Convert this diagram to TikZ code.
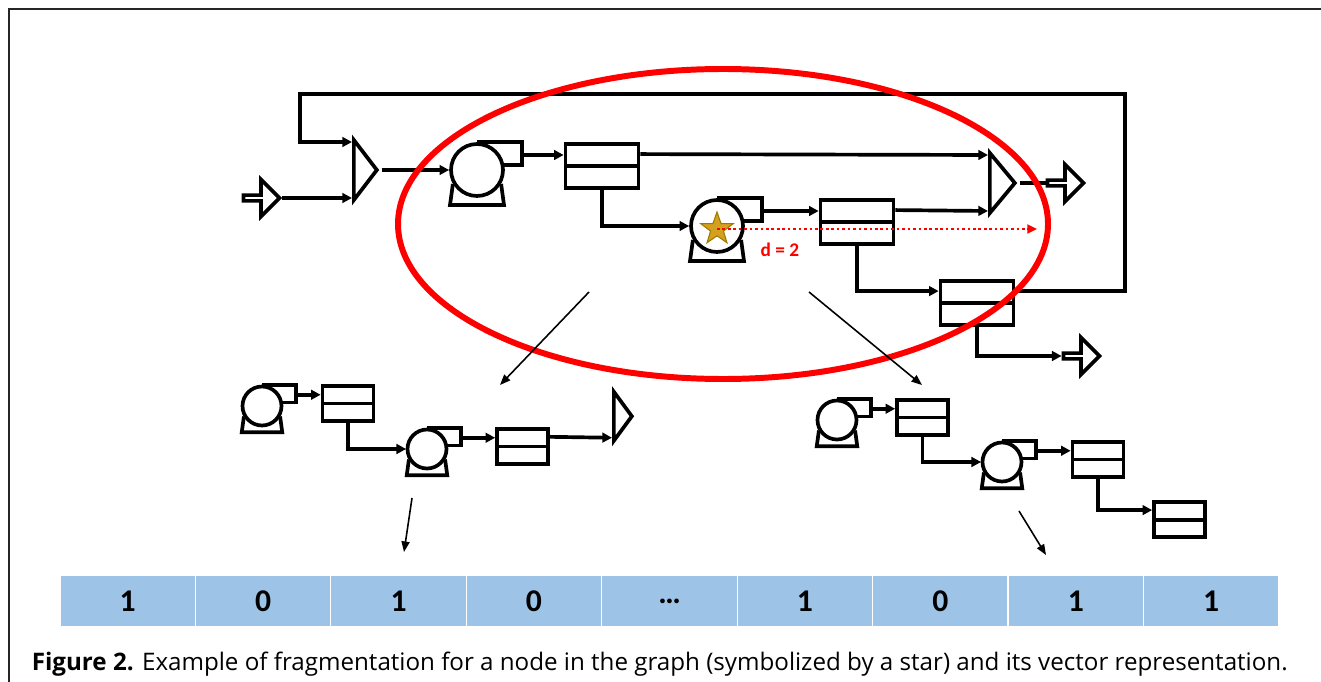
\documentclass[tikz,border=0pt]{standalone}
\usepackage{fontspec}
\setmainfont{Open Sans}
\newfontfamily\califont{Carlito}
\usetikzlibrary{arrows.meta,shapes.geometric,shapes.arrows,calc}

\definecolor{cellblue}{HTML}{9DC3E6}
\definecolor{stargold}{HTML}{D4A020}
\definecolor{starline}{HTML}{9C7A00}

\begin{document}
\begin{tikzpicture}[x=0.02cm, y=-0.02cm, line width=2.1pt,
        >={Triangle[length=5.5pt,width=5.5pt]},
        tank/.style={draw, rectangle, inner sep=0pt, minimum width=1.46cm, minimum height=0.88cm,
            path picture={\draw (path picture bounding box.west) -- (path picture bounding box.east);}},
        smalltank/.style={tank, minimum width=1.02cm, minimum height=0.70cm},
        mixer/.style={draw, isosceles triangle, isosceles triangle stretches, inner sep=0pt, anchor=lower side},
        blockarrow/.style={draw, single arrow, inner sep=0pt, minimum height=0.72cm, minimum width=0.74cm,
            single arrow head extend=0.2cm},
        bit/.style={draw=white, line width=0.6pt, fill=cellblue, inner sep=0pt,
            minimum width=2.708cm, minimum height=1.04cm, font=\califont\bfseries\fontsize{18}{20}\selectfont},
        thinarrow/.style={line width=0.9pt, -{Triangle[length=6pt,width=4.6pt]}},
        pump/.pic={
            \node[circle, draw, minimum size=1.04cm, inner sep=0pt] (-c) {};
            \draw (-c.north) -- ++(45,0) |- (-c.10);
            \draw (-c.-150) -- (-27,35) -- (27,35) -- (-c.-30);
            \coordinate (-out) at (45,-15);
        }]
    \useasboundingbox (0,0) rectangle (1321,682);
    \draw[line width=1.4pt, black!85] (9,682) -- (9,9) -- (1321,9);

    % whole process
    \node[blockarrow] (inA) at (260,198) {};
    \node[mixer, minimum height=0.46cm, minimum width=1.2cm] (mixA) at (352,170) {};
    \pic (pmA) at (477,170) {pump};
    \node[tank] (tankA) at (602,166) {};
    \pic (pmB) at (717,226) {pump};
    \node[tank] (tankB) at (857,222) {};
    \node[tank] (tankC) at (977,303) {};
    \node[mixer, minimum height=0.5cm, minimum width=1.2cm] (mixB) at (988,183) {};
    \node[blockarrow] (outA) at (1064,183) {};
    \node[blockarrow] (outB) at (1080,356) {};
    \coordinate (loopNE) at (1125,94);
    \coordinate (loopNW) at (300,94);

    \draw[->] (inA.tip) -- (inA.tip -| mixA.lower side);
    \draw[->] ($(tankC.east)!0.5!(tankC.north east)$) -| (loopNE) -- (loopNW) |- ($(mixA.lower side)+(0,-28)$);
    \draw[->] (mixA.apex) -- (pmA-c.west);
    \draw[->] (pmA-out) -- (pmA-out -| tankA.west);
    \draw[->] ($(tankA.east)!0.5!(tankA.north east)$) -- ($(mixB.lower side)+(0,-28)$);
    \draw[->] (tankA.south) |- (pmB-c.west);
    \draw[->] (pmB-out) -- (pmB-out -| tankB.west);
    \draw[->] ($(tankB.east)!0.5!(tankB.north east)$) -- ($(mixB.lower side)+(0,28)$);
    \draw[->] (tankB.south) |- ($(tankC.west)!0.5!(tankC.north west)$);
    \draw (mixB.apex) -- (outA.tail);
    \draw[->] (tankC.south) |- (outB.tail);

    % node of interest and its distance
    \node[star, star points=5, star point ratio=2.5, fill=stargold, draw=starline, line width=0.6pt,
        minimum size=0.68cm, inner sep=0pt] (starB) at (717,229) {};
    \coordinate (dEnd) at (1037,229);
    \draw[red, line width=1.4pt, dash pattern=on 1.5pt off 1.6pt, -{Triangle[length=5.5pt,width=5pt]}] (starB.center) -- (dEnd);
    \node[text=red, font=\califont\bfseries\fontsize{11}{13}\selectfont] (dLabel) at (780,250) {d = 2};

    \draw[red, line width=3.4pt] (723,224) ellipse [x radius=325, y radius=155];

    % fragment on the left
    \pic[scale=0.75, transform shape] (pmC) at (262,406) {pump};
    \node[smalltank] (tankD) at (348,403.5) {};
    \pic[scale=0.75, transform shape] (pmD) at (427,449) {pump};
    \node[smalltank] (tankE) at (522.5,446.5) {};
    \node[mixer, minimum height=0.36cm, minimum width=0.98cm] (mixC) at (612,416.25) {};

    \draw[->] (pmC-out) -- (pmC-out -| tankD.west);
    \draw[->] (tankD.south) |- (pmD-c.west);
    \draw[->] (pmD-out) -- (pmD-out -| tankE.west);
    \draw[->] ($(tankE.east)!0.5!(tankE.north east)$) -- ($(mixC.lower side)+(0,21.5)$);

    % fragment on the right
    \pic[scale=0.75, transform shape] (pmE) at (837,420) {pump};
    \node[smalltank] (tankF) at (922.5,417.5) {};
    \pic[scale=0.75, transform shape] (pmF) at (1002,462) {pump};
    \node[smalltank] (tankG) at (1098,459.5) {};
    \node[smalltank] (tankH) at (1179.5,519.75) {};

    \draw[->] (pmE-out) -- (pmE-out -| tankF.west);
    \draw[->] (tankF.south) |- (pmF-c.west);
    \draw[->] (pmF-out) -- (pmF-out -| tankG.west);
    \draw[->] (tankG.south) |- ($(tankH.west)!0.5!(tankH.north west)$);

    % pointers
    \coordinate (cutL) at (589,292);
    \coordinate (fragL) at (500,385);
    \coordinate (cutR) at (809,292);
    \coordinate (fragR) at (922,385);
    \coordinate (fragLo) at (412,498);
    \coordinate (bitL) at (404,552);
    \coordinate (fragRo) at (1019,511);
    \coordinate (bitR) at (1046,555);
    \draw[thinarrow] (cutL) -- (fragL);
    \draw[thinarrow] (cutR) -- (fragR);
    \draw[thinarrow] (fragLo) -- (bitL);
    \draw[thinarrow] (fragRo) -- (bitR);

    % vector
    \node[bit] (b1) at (127.7,601) {1};
    \node[bit] (b2) at (263.1,601) {0};
    \node[bit] (b3) at (398.6,601) {1};
    \node[bit] (b4) at (534.0,601) {0};
    \node[bit] (b5) at (669.5,601) {\ldots};
    \node[bit] (b6) at (804.9,601) {1};
    \node[bit] (b7) at (940.3,601) {0};
    \node[bit] (b8) at (1075.8,601) {1};
    \node[bit] (b9) at (1211.2,601) {1};

    \node[anchor=base west, inner sep=0pt, font=\fontsize{13.75}{16}\selectfont] (caption) at (30,670)
        {\textbf{Figure 2.} Example of fragmentation for a node in the graph (symbolized by a star) and its vector representation.};
\end{tikzpicture}
\end{document}
